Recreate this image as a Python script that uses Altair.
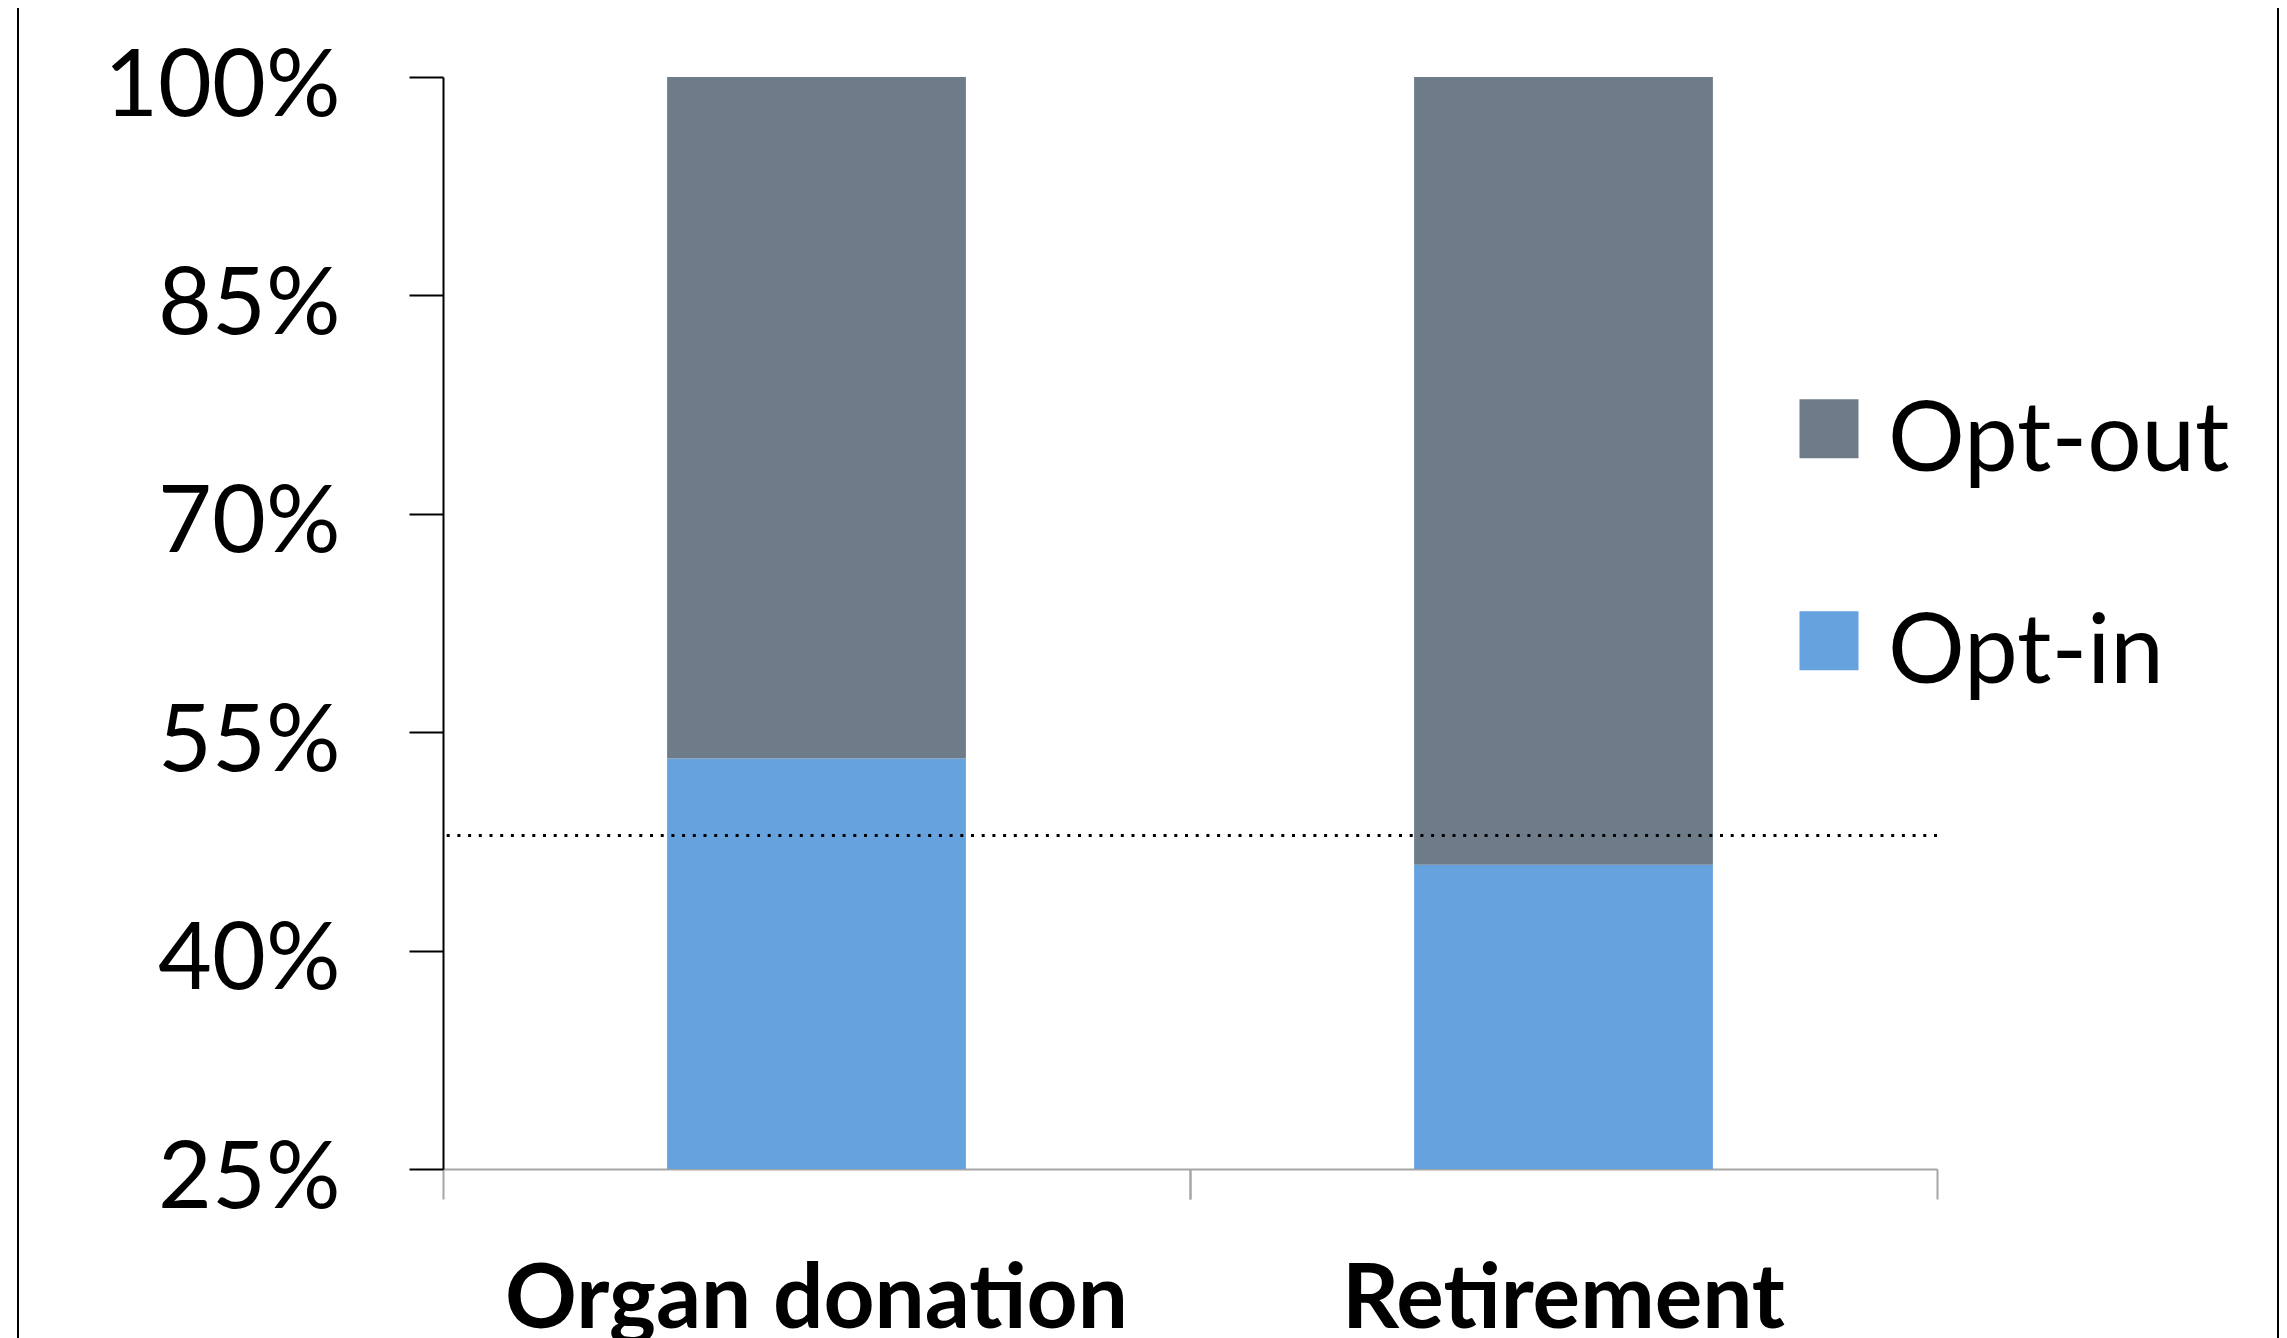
import altair as alt
import pandas as pd

categories = ["Organ donation", "Retirement"]
opt_in = [0.532, 0.459]
opt_out = [0.468, 0.541]
series = ["Opt-out", "Opt-in"]
colors = ["#6E7C89", "#65A2DE"]
reference_level = [0.479]
y_ticks = [0.25, 0.40, 0.55, 0.70, 0.85, 1.00]

rows = []
for c, a, b in zip(categories, opt_in, opt_out):
    rows.append({"category": c, "series": "Opt-in", "share": a, "stack_order": 0})
    rows.append({"category": c, "series": "Opt-out", "share": b, "stack_order": 1})
df = pd.DataFrame(rows)
ref_df = pd.DataFrame({"level": reference_level})
cat_df = pd.DataFrame({"category": categories})

FONT = "Lato"
AXIS_GREY = "#A6A6A6"
# square swatch, nudged upward relative to its legend label
SWATCH = "M-1,-1.45L1,-1.45L1,0.55L-1,0.55Z"
x_scale = alt.Scale(domain=categories, paddingInner=0.6, paddingOuter=0.3)
y_scale = alt.Scale(domain=[0.25, 1.0], zero=False, nice=False)

bars = alt.Chart(df).mark_bar(clip=True).encode(
    x=alt.X(
        "category:N", scale=x_scale, sort=categories,
        axis=alt.Axis(
            orient="bottom", title=None, labelAngle=0, labelLimit=0,
            labelFont=FONT, labelFontSize=89, labelFontWeight="bold", labelColor="black",
            labelBaseline="alphabetic", labelPadding=158,
            ticks=False, tickSize=0,
            domain=True, domainColor=AXIS_GREY, domainWidth=2, grid=False,
        ),
    ),
    y=alt.Y(
        "share:Q", stack="zero", scale=y_scale,
        axis=alt.Axis(
            title=None, values=y_ticks, format=".0%", labelLimit=0,
            labelFont=FONT, labelFontSize=93, labelColor="black", labelPadding=69,
            labelOffset=10,
            tickSize=34, tickColor="black", tickWidth=2,
            domainColor="black", domainWidth=2, grid=False,
        ),
    ),
    color=alt.Color(
        "series:N", scale=alt.Scale(domain=series, range=colors),
        legend=alt.Legend(
            title=None, orient="none", legendX=1338, legendY=317, padding=0,
            symbolType=SWATCH, symbolSize=3481, symbolStrokeWidth=0, symbolOpacity=1,
            labelFont=FONT, labelFontSize=96, labelColor="black", labelOffset=11,
            rowPadding=116, labelLimit=0,
        ),
    ),
    order=alt.Order("stack_order:Q"),
)


def tick_layer(band_pos):
    return alt.Chart(cat_df).mark_rule(opacity=0).encode(
        x=alt.X(
            "category:N", scale=x_scale, sort=categories,
            axis=alt.Axis(
                orient="bottom", title=None, labels=False, domain=False, grid=False,
                ticks=True, tickSize=30, tickColor=AXIS_GREY, tickWidth=2,
                bandPosition=band_pos,
            ),
        ),
    )


ref_rule = alt.Chart(ref_df).mark_rule(
    color="black", strokeDash=[3, 7.7], strokeWidth=3, strokeCap="butt"
).encode(
    y=alt.Y("level:Q", scale=y_scale, axis=None),
)

# chart-area frame (left and right edges of the original chart box)
frame_df = pd.DataFrame({"edge": ["left", "right"]})
frame_left = alt.Chart(frame_df).transform_filter(alt.datum.edge == "left").mark_rule(
    color="black", strokeWidth=2
).encode(x=alt.value(-425), y=alt.value(-90), y2=alt.value(1300))
frame_right = alt.Chart(frame_df).transform_filter(alt.datum.edge == "right").mark_rule(
    color="black", strokeWidth=2
).encode(x=alt.value(1835), y=alt.value(-90), y2=alt.value(1300))

chart = alt.layer(
    bars, tick_layer(-0.75), tick_layer(1.75), ref_rule, frame_left, frame_right
).resolve_axis(x="independent", y="independent").properties(
    width=1494,
    height=1092,
    autosize=alt.AutoSizeParams(type="none"),
    padding={"left": 435, "top": 69, "right": 342, "bottom": 200},
    background="white",
).configure(font=FONT).configure_view(stroke=None)

chart.save("out.html", embed_options={"renderer": "svg", "actions": False})
